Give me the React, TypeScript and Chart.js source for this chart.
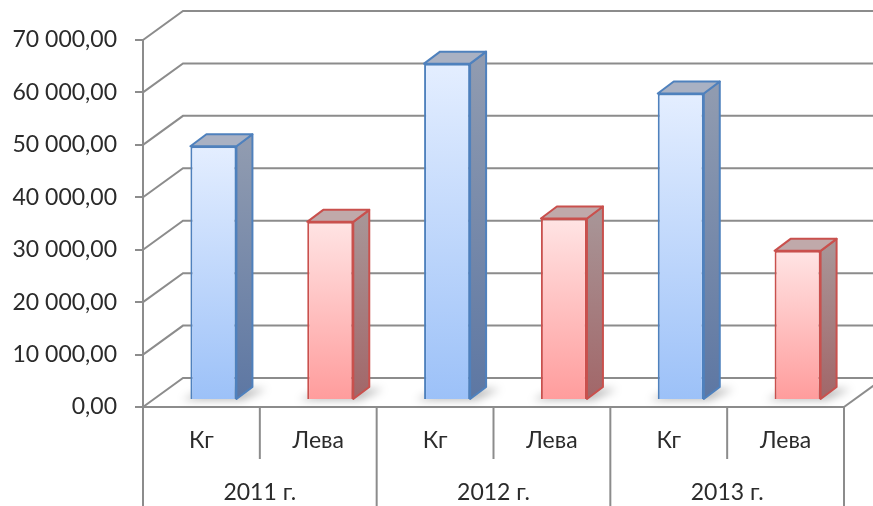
import { useEffect, useRef } from 'react';
import { Chart, registerables } from 'chart.js';

Chart.register(...registerables);

// ---- data ----
const years = ['2011 г.', '2012 г.', '2013 г.'];
const measures = ['Кг', 'Лева'];
const kgValues = [48400, 64150, 58450];
const levaValues = [33980, 34630, 28450];
const yMin = 0;
const yMax = 70000;
const yStep = 10000;

// ---- styles ----
const FONT = 'Lato, "Open Sans", sans-serif';
const TEXT = '#2b2b2b';
const GRID = '#8c8c8c';
const frontTop = ['#e4eeff', '#ffe4e4'];
const frontBottom = ['#9cc1f8', '#ff9c9c'];
const borderCol = ['#4f81bd', '#c9504d'];
const sideTop = ['#909bb0', '#a89496'];
const sideBottom = ['#5d77a3', '#a26668'];
const topFace = ['#a9b1c3', '#c0a9aa'];

const DX = 40, DY = -29; // wall depth
const BX = 12, BY = -7; // bar placement in depth
const SX = 16, SY = -12; // bar thickness

const labels = years.flatMap(() => measures);
const values = years.flatMap((_, i) => [kgValues[i], levaValues[i]]);

const fmt = (v: number) =>
  Math.round(v).toString().replace(/\B(?=(\d{3})+(?!\d))/g, ' ') + ',00';

const threeD = {
  id: 'threeD',
  beforeDatasetsDraw(chart: any) {
    const { ctx, chartArea: a, scales } = chart;
    const y = scales.y;
    ctx.save();
    ctx.strokeStyle = GRID;
    ctx.lineWidth = 2;
    for (let v = yMin; v <= yMax; v += yStep) {
      const py = y.getPixelForValue(v);
      ctx.beginPath();
      ctx.moveTo(a.left, py);
      ctx.lineTo(a.left + DX, py + DY);
      ctx.lineTo(chart.width, py + DY);
      ctx.stroke();
    }
    const p0 = y.getPixelForValue(0);
    ctx.beginPath();
    ctx.moveTo(a.right, p0);
    ctx.lineTo(a.right + DX, p0 + DY);
    ctx.stroke();

    // soft floor shadows
    const meta = chart.getDatasetMeta(0);
    ctx.filter = 'blur(4px)';
    ctx.fillStyle = 'rgba(0,0,0,0.28)';
    meta.data.forEach((bar: any) => {
      const { x: cx, base, width } = bar.getProps(['x', 'base', 'width'], true);
      const l = cx - width / 2 + BX, r = cx + width / 2 + BX, b = base + BY;
      ctx.beginPath();
      ctx.moveTo(l - 8, b + 1);
      ctx.lineTo(r + 6, b + 1);
      ctx.lineTo(r + SX + 14, b + SY + 2);
      ctx.lineTo(l + SX, b + SY + 2);
      ctx.closePath();
      ctx.fill();
    });
    ctx.restore();

    ctx.save();
    ctx.translate(BX, BY);
  },
  afterDatasetsDraw(chart: any) {
    const { ctx, chartArea: a, scales } = chart;
    ctx.restore();
    const meta = chart.getDatasetMeta(0);
    ctx.save();
    ctx.lineWidth = 2;
    ctx.lineJoin = 'round';
    meta.data.forEach((bar: any, i: number) => {
      const { x: cx, y: top, base, width } = bar.getProps(['x', 'y', 'base', 'width'], true);
      const m = i % measures.length;
      const l = cx - width / 2 + BX, r = cx + width / 2 + BX, t = top + BY, b = base + BY;
      const g = ctx.createLinearGradient(0, t, 0, b);
      g.addColorStop(0, sideTop[m]);
      g.addColorStop(1, sideBottom[m]);
      ctx.strokeStyle = borderCol[m];
      ctx.fillStyle = g;
      ctx.beginPath();
      ctx.moveTo(r, t);
      ctx.lineTo(r + SX, t + SY);
      ctx.lineTo(r + SX, b + SY);
      ctx.lineTo(r, b);
      ctx.closePath();
      ctx.fill();
      ctx.stroke();
      ctx.fillStyle = topFace[m];
      ctx.beginPath();
      ctx.moveTo(l, t);
      ctx.lineTo(l + SX, t + SY);
      ctx.lineTo(r + SX, t + SY);
      ctx.lineTo(r, t);
      ctx.closePath();
      ctx.fill();
      ctx.stroke();
    });
    ctx.restore();

    // category frame below floor
    const n = labels.length;
    const w = (a.right - a.left) / n;
    ctx.save();
    ctx.strokeStyle = GRID;
    ctx.lineWidth = 2;
    for (let k = 0; k <= n; k++) {
      const px = a.left + k * w;
      const long = k % measures.length === 0;
      ctx.beginPath();
      ctx.moveTo(px, a.bottom);
      ctx.lineTo(px, long ? chart.height : a.bottom + 52);
      ctx.stroke();
    }
    ctx.fillStyle = TEXT;
    ctx.font = `23px ${FONT}`;
    ctx.textAlign = 'center';
    ctx.textBaseline = 'middle';
    const x = scales.x;
    years.forEach((yr, i) => {
      const c0 = x.getPixelForValue(i * measures.length);
      const c1 = x.getPixelForValue(i * measures.length + measures.length - 1);
      ctx.fillText(yr, (c0 + c1) / 2, a.bottom + 86);
    });
    ctx.restore();
  },
};

export default function App() {
  const ref = useRef<HTMLCanvasElement>(null);
  useEffect(() => {
    document.body.style.margin = '0';
    const canvas = ref.current!;
    const chart = new Chart(canvas, {
      type: 'bar',
      data: {
        labels,
        datasets: [
          {
            data: values,
            clip: false as any,
            barPercentage: 0.394,
            categoryPercentage: 1,
            borderWidth: 2,
            borderColor: (c: any) => borderCol[c.dataIndex % measures.length],
            backgroundColor: (c: any) => {
              const ch = c.chart;
              const ys = ch.scales && ch.scales.y;
              const m = c.dataIndex % measures.length;
              if (!ys || c.raw == null) return frontBottom[m];
              const t = ys.getPixelForValue(c.raw);
              const b = ys.getPixelForValue(0);
              if (!isFinite(t) || !isFinite(b) || t === b) return frontBottom[m];
              const g = ch.ctx.createLinearGradient(0, t, 0, b);
              g.addColorStop(0, frontTop[m]);
              g.addColorStop(1, frontBottom[m]);
              return g;
            },
          },
        ],
      },
      options: {
        responsive: false,
        animation: false,
        devicePixelRatio: 1,
        layout: { padding: { top: 40, right: 29, left: 0, bottom: 0 } },
        plugins: { legend: { display: false }, tooltip: { enabled: false } },
        scales: {
          x: {
            grid: { display: false, drawTicks: false },
            border: { display: true, color: GRID, width: 2 },
            ticks: {
              font: { family: FONT, size: 23 },
              color: TEXT,
              padding: 20,
              maxRotation: 0,
              autoSkip: false,
            },
            afterFit: (s: any) => {
              s.height = 99;
            },
          },
          y: {
            min: yMin,
            max: yMax,
            grid: { drawOnChartArea: false, drawTicks: true, tickLength: 8, color: GRID, lineWidth: 2 },
            border: { display: true, color: GRID, width: 2 },
            ticks: {
              stepSize: yStep,
              font: { family: FONT, size: 23 },
              color: TEXT,
              padding: 18,
              callback: (v: any) => fmt(Number(v)),
            },
            afterFit: (s: any) => {
              s.width = 143;
            },
          },
        },
      },
      plugins: [threeD],
    });
    return () => chart.destroy();
  }, []);
  return (
    <div style={{ width: 873, height: 506 }}>
      <canvas ref={ref} width={873} height={506} />
    </div>
  );
}
